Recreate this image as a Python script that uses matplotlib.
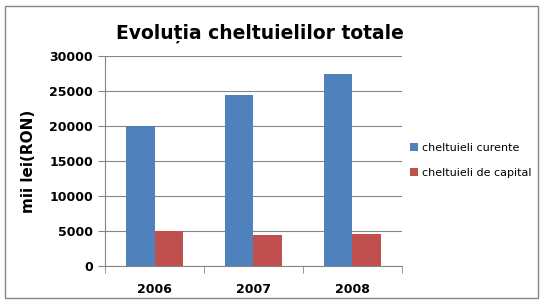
import matplotlib.pyplot as plt
import numpy as np
from matplotlib.patches import Rectangle

years = ['2006', '2007', '2008']
curente = [20000, 24400, 27400]
capital = [4950, 4450, 4600]
series_names = ['cheltuieli curente', 'cheltuieli de capital']
colors = ['#4F81BD', '#C0504D']

fig = plt.figure(figsize=(5.45, 3.05), dpi=100)
ax = fig.add_axes([105/545, 1-266/305, 297/545, 210/305])

x = np.arange(len(years))
w = 0.29
ax.bar(x - w/2, curente, w, color=colors[0], label=series_names[0], zorder=3)
ax.bar(x + w/2, capital, w, color=colors[1], label=series_names[1], zorder=3)

ax.set_xlim(-0.5, 2.5)
ax.set_ylim(0, 30000)
ax.set_yticks(np.arange(0, 30001, 5000))
ax.yaxis.grid(True, color='#868686', linewidth=0.8, zorder=0)
ax.set_xticks(x)
ax.set_xticklabels(years, fontweight='bold', fontsize=9)
ax.set_xticks([-0.5, 0.5, 1.5, 2.5], minor=True)
ax.tick_params(axis='x', which='major', length=0, pad=12)
ax.tick_params(axis='x', which='minor', length=5, color='#868686')
ax.tick_params(axis='y', length=5, color='#868686', labelsize=9)
for lab in ax.get_yticklabels():
    lab.set_fontweight('bold')
for s in ['top', 'right']:
    ax.spines[s].set_visible(False)
for s in ['left', 'bottom']:
    ax.spines[s].set_color('#868686')
ax.set_ylabel('mii lei(RON)', fontweight='bold', fontsize=11, labelpad=10)

fig.text(260/545, 1-33/305, 'Evoluția cheltuielilor totale', ha='center', va='center',
         fontsize=13.5, fontweight='bold')

ax.legend(loc='upper left', bbox_to_anchor=(1.0, 0.625), frameon=False,
          fontsize=8, handlelength=0.7, handleheight=0.7, handletextpad=0.4,
          labelspacing=1.35, borderaxespad=0.3)

fig.patches.append(Rectangle((5/545, 1-298/305), 533/545, 292/305, transform=fig.transFigure,
                             fill=False, edgecolor='#868686', linewidth=1))

fig.savefig('out.png', dpi=100)
